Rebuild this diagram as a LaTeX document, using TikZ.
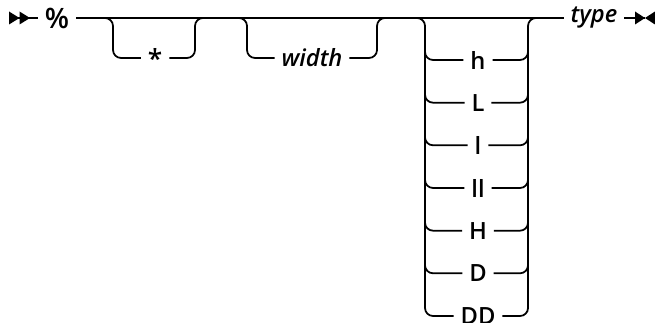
\documentclass[tikz,border=0pt]{standalone}
\usepackage{fontspec}
\setmainfont{Open Sans}[UprightFont={* Semibold},ItalicFont={* Semibold Italic}]
\usepackage{tikz}
\usetikzlibrary{calc,positioning}

\tikzset{
  kw/.style={inner xsep=3.5pt,inner ysep=0pt,font=\fontsize{13.5}{15}\selectfont},
  var/.style={kw,font=\fontsize{13.5}{15}\selectfont\itshape},
  rail/.style={rounded corners=0.16cm}
}

\begin{document}
\begin{tikzpicture}[x=0.02cm,y=-0.02cm,line width=1pt]
\useasboundingbox (0,0) rectangle (655,323);
\coordinate (start) at (9,18);
\coordinate (stop) at (645,18);
%keyword and main line
\node[kw,font=\fontsize{16}{18}\selectfont] (pct) at (57,18) {\%};
\node[var] (type) at (594,18) {type};
\fill ($(start)+(0,-6.5)$) -- ++(10.5,6.5) -- ++(-10.5,6.5) -- cycle;
\fill ($(start)+(10.5,-6.5)$) -- ++(10.5,6.5) -- ++(-10.5,6.5) -- cycle;
\draw (start) -- (pct);
\draw (pct) -- (type);
\draw (type) -- (stop);
\fill ($(stop)+(-10,-6.5)$) -- (stop) -- ($(stop)+(-10,6.5)$) -- cycle;
\fill ($(stop)+(10,-6.5)$) -- (stop) -- ($(stop)+(10,6.5)$) -- cycle;
%the star branch
\coordinate (fA) at (103,18);
\coordinate (gA) at (205,18);
\node[kw,font=\fontsize{15}{17}\selectfont] (star) at (155,58) {*};
\draw[rail] (fA) -- ($(fA)+(10,0)$) |- (star.west);
\draw[rail] (star.east) -| ($(gA)+(-10,0)$) -- (gA);
%the width branch
\coordinate (fB) at (239,18);
\coordinate (gB) at (385,18);
\node[var] (width) at (312,58) {width};
\draw[rail] (fB) -- ($(fB)+(8,0)$) |- (width.west);
\draw[rail] (width.east) -| ($(gB)+(-8,0)$) -- (gB);
%the size choice
\coordinate (fC) at (417,18);
\coordinate (lv) at (425,18);
\coordinate (rv) at (528,18);
\coordinate (gC) at (536,18);
\node[kw] (h) at (478,60) {h};
\node[kw] (L) at (478,102.7) {L};
\node[kw] (l) at (478,145.3) {l};
\node[kw] (ll) at (478,188) {ll};
\node[kw] (H) at (478,230.7) {H};
\node[kw] (D) at (478,273.3) {D};
\node[kw] (DD) at (478,316) {DD};
\draw[rail] (fC) -- (lv) |- (DD.west);
\draw[rail] (DD.east) -| (rv) -- (gC);
\draw[rail] ($(lv |- h)+(0,-10)$) |- (h.west) (h.east) -| ($(rv |- h)+(0,-10)$);
\draw[rail] ($(lv |- L)+(0,-10)$) |- (L.west) (L.east) -| ($(rv |- L)+(0,-10)$);
\draw[rail] ($(lv |- l)+(0,-10)$) |- (l.west) (l.east) -| ($(rv |- l)+(0,-10)$);
\draw[rail] ($(lv |- ll)+(0,-10)$) |- (ll.west) (ll.east) -| ($(rv |- ll)+(0,-10)$);
\draw[rail] ($(lv |- H)+(0,-10)$) |- (H.west) (H.east) -| ($(rv |- H)+(0,-10)$);
\draw[rail] ($(lv |- D)+(0,-10)$) |- (D.west) (D.east) -| ($(rv |- D)+(0,-10)$);
\end{tikzpicture}
\end{document}
